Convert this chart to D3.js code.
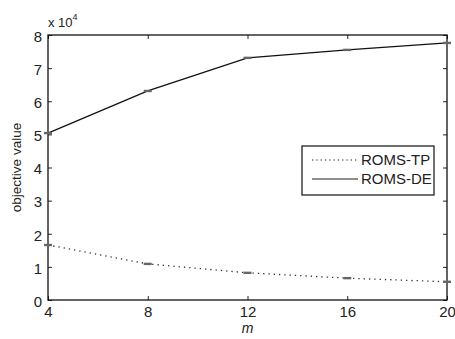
<!DOCTYPE html>
<html>
<head>
<meta charset="utf-8">
<script src="https://cdn.jsdelivr.net/npm/d3@7"></script>
<style>
  body { margin: 0; background: #fff; }
  svg { font-family: "Liberation Sans", Arial, sans-serif; }
</style>
</head>
<body>
<div id="chart"></div>
<script>
// Chart data (values in units of 10^4)
const mValues = [4, 8, 12, 16, 20];
const romsTP = [1.66, 1.09, 0.82, 0.66, 0.55];
const romsDE = [5.04, 6.31, 7.31, 7.55, 7.76];
const xTicks = [4, 8, 12, 16, 20];
const yTicks = [0, 1, 2, 3, 4, 5, 6, 7, 8];
const seriesNames = ["ROMS-TP", "ROMS-DE"];

const width = 455
const height = 339
const margin = { top: 35, right: 8, bottom: 39, left: 48 }
const w = width - margin.left - margin.right
const h = height - margin.top - margin.bottom

const svg = d3.select("#chart")
  .append("svg")
  .attr("width", width)
  .attr("height", height)

const g = svg.append("g")
  .attr("transform", "translate(" + margin.left + "," + margin.top + ")")

// Scales
const x = d3.scaleLinear().domain([4, 20]).range([0, w])
const y = d3.scaleLinear().domain([0, 8]).range([h, 0])

// Axes with inward ticks (matlab style box)
function styleAxis(sel, size) {
  sel.select(".domain").remove()
  sel.selectAll("line").attr("stroke", "#222")
  sel.selectAll("text")
    .attr("fill", "#222")
    .style("font-size", size + "px")
}

g.append("g")
  .attr("transform", "translate(0," + h + ")")
  .call(d3.axisBottom(x).tickValues(xTicks).tickSizeInner(-4).tickSizeOuter(0).tickPadding(6))
  .call(styleAxis, 15)

g.append("g")
  .call(d3.axisTop(x).tickValues(xTicks).tickSizeInner(-4).tickSizeOuter(0).tickFormat(""))
  .call(styleAxis, 15)

g.append("g")
  .call(d3.axisLeft(y).tickValues(yTicks).tickSizeInner(-4).tickSizeOuter(0).tickPadding(6))
  .call(styleAxis, 15)
  .selectAll("text")
  .attr("dy", "0.42em")

g.append("g")
  .attr("transform", "translate(" + w + ",0)")
  .call(d3.axisRight(y).tickValues(yTicks).tickSizeInner(-4).tickSizeOuter(0).tickFormat(""))
  .call(styleAxis, 15)

// Box
g.append("rect")
  .attr("x", 0)
  .attr("y", 0)
  .attr("width", w)
  .attr("height", h)
  .attr("fill", "none")
  .attr("stroke", "#111")
  .attr("stroke-width", 1.3)

// Exponent label
svg.append("text")
  .attr("x", margin.left)
  .attr("y", margin.top - 8)
  .attr("fill", "#222")
  .style("font-size", "13px")
  .text("x 10")
  .append("tspan")
  .attr("dy", -7)
  .style("font-size", "9px")
  .text("4")

// Lines
const line = d3.line()
  .x((d, i) => x(mValues[i]))
  .y(d => y(d))

g.append("path")
  .datum(romsTP)
  .attr("d", line)
  .attr("fill", "none")
  .attr("stroke", "#333")
  .attr("stroke-width", 1.3)
  .attr("stroke-dasharray", "1.3,4")

g.append("path")
  .datum(romsDE)
  .attr("d", line)
  .attr("fill", "none")
  .attr("stroke", "#111")
  .attr("stroke-width", 1.3)

// Small markers at each point
const markers = romsTP.concat(romsDE).map((v, i) => ({ m: mValues[i % mValues.length], v: v }))
g.selectAll("marker-rect")
  .data(markers)
  .enter()
  .append("rect")
  .attr("x", d => x(d.m) - 4)
  .attr("y", d => y(d.v) - 1.2)
  .attr("width", 8)
  .attr("height", 2.4)
  .attr("fill", "#666")

// Axis labels
svg.append("text")
  .attr("x", margin.left + w / 2)
  .attr("y", 333)
  .attr("text-anchor", "middle")
  .attr("fill", "#222")
  .style("font-size", "14px")
  .style("font-style", "italic")
  .text("m")

svg.append("text")
  .attr("transform", "translate(21," + (margin.top + h / 2) + ")rotate(-90)")
  .attr("text-anchor", "middle")
  .attr("fill", "#222")
  .style("font-size", "13.5px")
  .text("objective value")

// Legend
const legend = svg.append("g")
  .attr("transform", "translate(302,146)")

legend.append("rect")
  .attr("width", 132)
  .attr("height", 49)
  .attr("fill", "#fff")
  .attr("stroke", "#111")
  .attr("stroke-width", 1.2)

const legendDash = ["1.3,3", null]
seriesNames.forEach((name, i) => {
  const ly = 14 + i * 19
  legend.append("line")
    .attr("x1", 10)
    .attr("x2", 56)
    .attr("y1", ly)
    .attr("y2", ly)
    .attr("stroke", "#222")
    .attr("stroke-width", 1.2)
    .attr("stroke-dasharray", legendDash[i])
  legend.append("text")
    .attr("x", 59)
    .attr("y", ly + 5)
    .attr("fill", "#222")
    .style("font-size", "15px")
    .text(name)
})
</script>
</body>
</html>
